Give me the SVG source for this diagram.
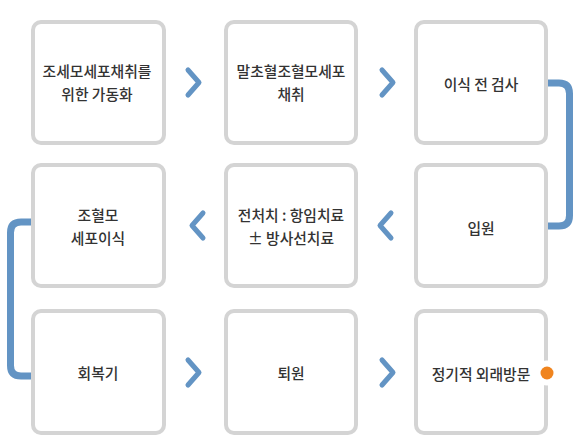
<svg xmlns="http://www.w3.org/2000/svg" width="583" height="445" viewBox="0 0 583 445">
<style>
.box{fill:#fff;stroke:#d4d4d4;stroke-width:4}
.t{font-family:"Noto Sans CJK KR","Noto Sans",sans-serif;font-size:14.8px;font-weight:500;fill:#333;text-anchor:middle;dominant-baseline:central}
.conn{fill:none;stroke:#6394c4;stroke-width:7}
.chev{fill:none;stroke:#6394c4;stroke-width:5;stroke-linecap:round;stroke-linejoin:round}
</style>
<rect width="583" height="445" fill="#fff"/>
<g id="connectors">
<path class="conn" d="M546 83 H559 Q569.5 83 569.5 93.5 V215.5 Q569.5 226 559 226 H546"/>
<path class="conn" d="M33 222 H21 Q10.5 222 10.5 232.5 V365.5 Q10.5 376 21 376 H33"/>
<path class="chev" d="M188 70 L199 82.5 L188 95"/>
<path class="chev" d="M382 70 L393 82.5 L382 95"/>
<path class="chev" d="M203 213 L192 225.5 L203 238"/>
<path class="chev" d="M391 213 L380 225.5 L391 238"/>
<path class="chev" d="M188 360 L199 372.5 L188 385"/>
<path class="chev" d="M382 360 L393 372.5 L382 385"/>
</g>
<g id="n1"><rect class="box" x="33" y="22" width="131" height="121" rx="8"/><text class="t" x="97" y="70">조세모세포채취를</text><text class="t" x="97" y="93">위한 가동화</text></g>
<g id="n2"><rect class="box" x="226" y="22" width="130" height="121" rx="8"/><text class="t" x="291" y="70">말초혈조혈모세포</text><text class="t" x="291" y="93">채취</text></g>
<g id="n3"><rect class="box" x="416" y="22" width="130" height="121" rx="8"/><text class="t" x="481" y="83">이식 전 검사</text></g>
<g id="n4"><rect class="box" x="416" y="165" width="130" height="121" rx="8"/><text class="t" x="481" y="227">입원</text></g>
<g id="n5"><rect class="box" x="226" y="165" width="130" height="121" rx="8"/><text class="t" x="291" y="214">전처치 : 항임치료</text><text class="t" x="291" y="237">± 방사선치료</text></g>
<g id="n6"><rect class="box" x="33" y="165" width="131" height="121" rx="8"/><text class="t" x="98" y="214">조혈모</text><text class="t" x="98" y="237">세포이식</text></g>
<g id="n7"><rect class="box" x="33" y="311" width="131" height="122" rx="8"/><text class="t" x="98" y="372">회복기</text></g>
<g id="n8"><rect class="box" x="226" y="311" width="130" height="122" rx="8"/><text class="t" x="291" y="372">퇴원</text></g>
<g id="n9"><rect class="box" x="416" y="311" width="130" height="122" rx="8"/><text class="t" x="481" y="373">정기적 외래방문</text>
<circle cx="547" cy="373" r="12.5" fill="#fff"/><circle cx="547" cy="373" r="6.5" fill="#f0841e"/></g>
</svg>
